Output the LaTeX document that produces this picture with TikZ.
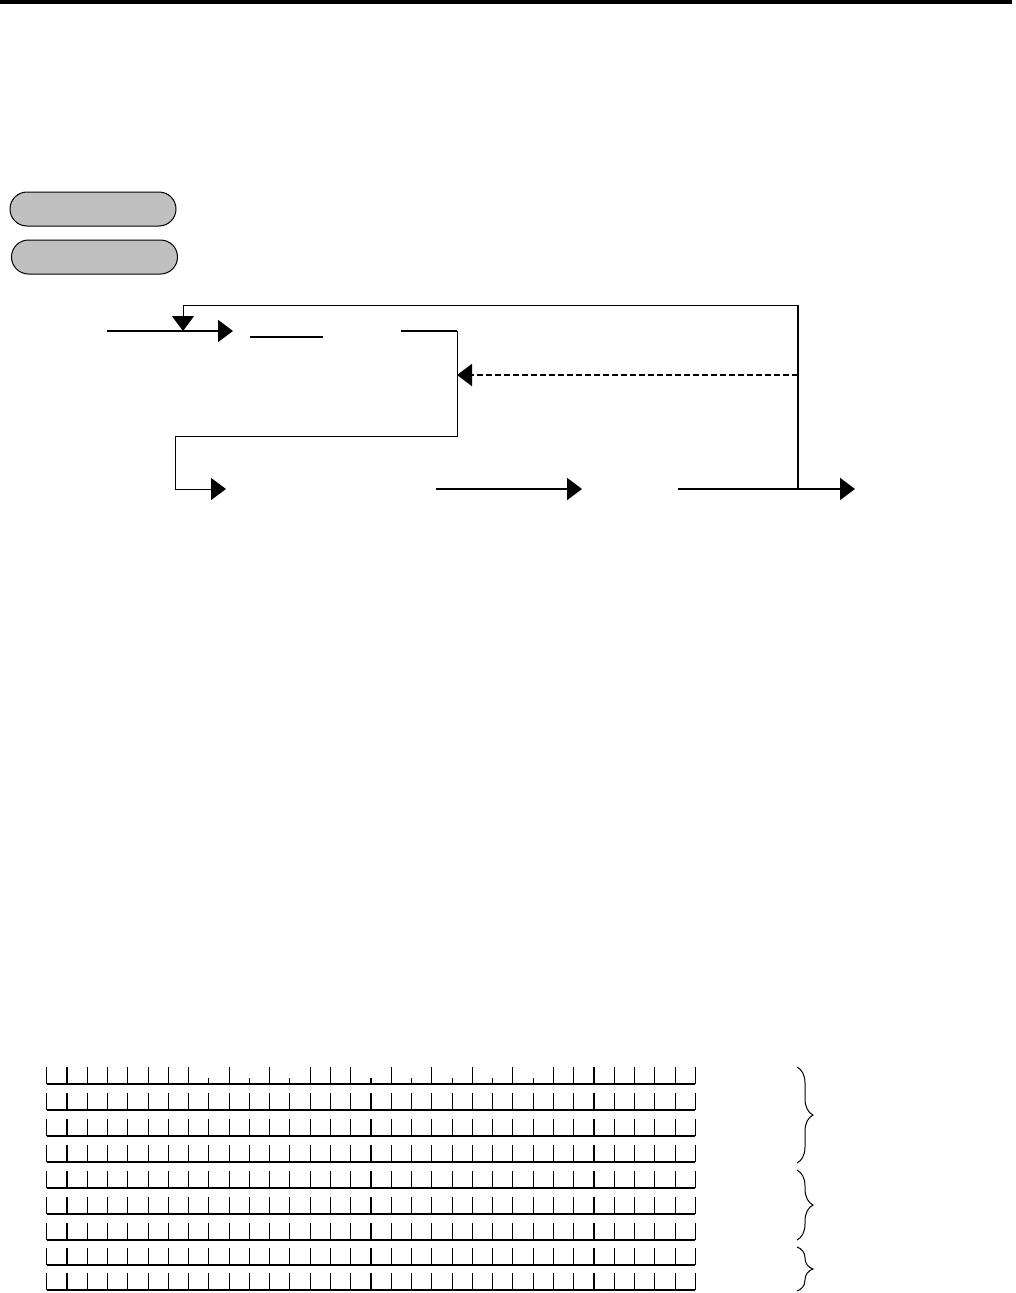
\documentclass[tikz,border=0pt]{standalone}
\usetikzlibrary{arrows.meta,shapes.misc,decorations.pathreplacing}
\definecolor{ovalgray}{RGB}{192,192,192}
\begin{document}
\begin{tikzpicture}[x=1pt,y=-1pt,
  thinline/.style={line width=1pt},
  thickline/.style={line width=2pt},
  tipped/.style={-{Triangle[length=15pt,width=22pt]}},
  oval/.style={draw, line width=1pt, fill=ovalgray, rounded rectangle,
    minimum width=166pt, minimum height=34pt, inner sep=0pt},
  base/.style={line width=1.6pt},
  tick/.style={line width=1.1pt},
  bracket/.style={line width=1pt, decorate, decoration={brace, amplitude=16pt}}
]
\useasboundingbox (0,0) rectangle (1015,1293);

% top bar
\fill (0,0) rectangle (1012,4);

% ovals
\node[oval] (o1) at (93,209) {};
\node[oval] (o2) at (94.5,257) {};

% flow coordinates
\coordinate (in0) at (107,331);
\coordinate (in1) at (233,331);
\coordinate (fbT) at (183,305);
\coordinate (fbJ) at (183,331);
\coordinate (fbR) at (798,305);
\coordinate (fbB) at (798,489);
\coordinate (s1a) at (250,337);
\coordinate (s1b) at (323,337);
\coordinate (s2a) at (401,331);
\coordinate (s2b) at (457,331);
\coordinate (s2c) at (457,436);
\coordinate (dashS) at (798,375);
\coordinate (dashE) at (457,375);
\coordinate (l1) at (175,436);
\coordinate (l2) at (175,489);
\coordinate (a1) at (226,489);
\coordinate (b0) at (436,489);
\coordinate (b1) at (582,489);
\coordinate (c0) at (678,489);
\coordinate (c1) at (855,489);

\draw[thickline, tipped] (in0) -- (in1);
\draw[thinline] (fbR) -- (fbT);
\draw[thinline, tipped] (fbT) -- (fbJ);
\draw[line width=1.6pt] (fbR) -- (fbB);
\draw[thickline] (s1a) -- (s1b);
\draw[thickline] (s2a) -- (s2b);
\draw[thinline] (s2b) -- (s2c) -- (l1) -- (l2);
\draw[thinline, tipped] (l2) -- (a1);
\draw[thickline, dash pattern=on 6pt off 3pt, tipped] (dashS) -- (dashE);
\draw[thickline, tipped] (b0) -- (b1);
\draw[thickline, tipped] (c0) -- (c1);

% ruler rows
\foreach \r in {1110,1136,1162,1188,1214,1240,1265,1290} {
  \draw[base] (46.7,\r) -- (695.3,\r);
  \foreach \k in {0,...,32} {
    \draw[tick] (46.7+\k*20.27,\r) -- ++(0,-17);
  }
}
% first row with short ticks
\draw[base] (46.7,1084) -- (695.3,1084);
\foreach \k in {0,1,2,3,4,5,6,7,9,11,13,14,15,17,19,21,23,25,26,27,28,29,30,31,32} {
  \draw[tick] (46.7+\k*20.27,1084) -- ++(0,-17);
}
\foreach \k in {8,10,12,16,18,20,22,24} {
  \draw[tick] (46.7+\k*20.27,1084) -- ++(0,-6);
}

% braces
\coordinate (br1t) at (797,1067);
\coordinate (br1b) at (797,1163);
\coordinate (br2t) at (797,1170);
\coordinate (br2b) at (797,1240);
\coordinate (br3t) at (797,1247);
\coordinate (br3b) at (797,1291);
\draw[bracket] (br1t) -- (br1b);
\draw[bracket] (br2t) -- (br2b);
\draw[bracket] (br3t) -- (br3b);
\end{tikzpicture}
\end{document}
